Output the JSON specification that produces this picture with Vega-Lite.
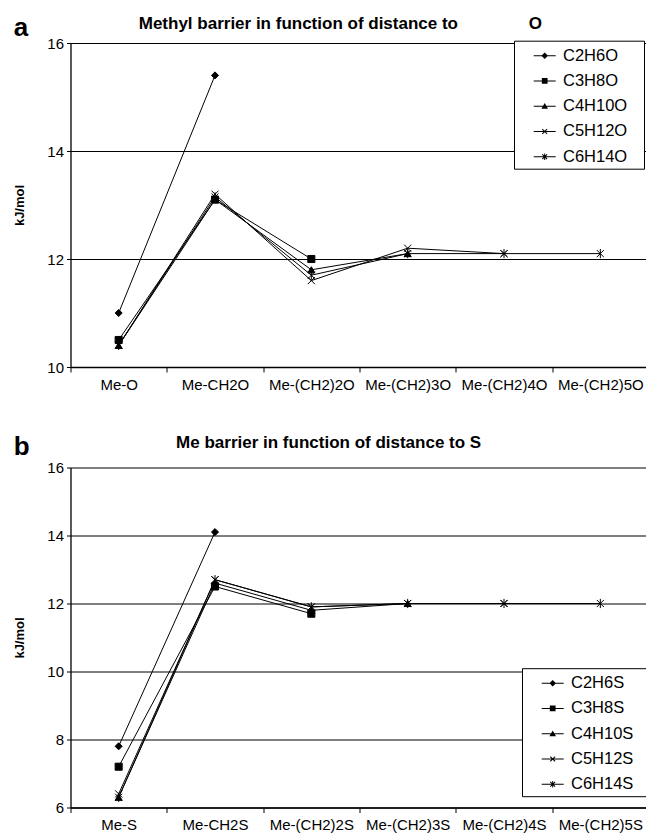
{
  "$schema": "https://vega.github.io/schema/vega-lite/v6.json",
  "background": "white",
  "padding": {"left": 13.5, "top": 14, "right": 0, "bottom": 0},
  "spacing": 41.5,
  "resolve": {"scale": {"shape": "independent"}, "legend": {"shape": "independent"}},
  "config": {
    "font": "Liberation Sans",
    "view": {"stroke": null},
    "axis": {"domainColor": "black", "tickColor": "black", "labelColor": "black", "titleColor": "black", "gridColor": "black", "gridOpacity": 1, "domainWidth": 1.3, "tickWidth": 1, "gridWidth": 1},
    "title": {"fontSize": 17, "fontWeight": "bold", "color": "black", "font": "Liberation Sans"}
  },
  "datasets": {
    "oxy": [
      {"series": "C2H6O", "idx": 1, "position": "Me-O", "kJ": 11.0},
      {"series": "C2H6O", "idx": 2, "position": "Me-CH2O", "kJ": 15.4},
      {"series": "C3H8O", "idx": 1, "position": "Me-O", "kJ": 10.5},
      {"series": "C3H8O", "idx": 2, "position": "Me-CH2O", "kJ": 13.1},
      {"series": "C3H8O", "idx": 3, "position": "Me-(CH2)2O", "kJ": 12.0},
      {"series": "C4H10O", "idx": 1, "position": "Me-O", "kJ": 10.4},
      {"series": "C4H10O", "idx": 2, "position": "Me-CH2O", "kJ": 13.1},
      {"series": "C4H10O", "idx": 3, "position": "Me-(CH2)2O", "kJ": 11.8},
      {"series": "C4H10O", "idx": 4, "position": "Me-(CH2)3O", "kJ": 12.1},
      {"series": "C5H12O", "idx": 1, "position": "Me-O", "kJ": 10.4},
      {"series": "C5H12O", "idx": 2, "position": "Me-CH2O", "kJ": 13.2},
      {"series": "C5H12O", "idx": 3, "position": "Me-(CH2)2O", "kJ": 11.6},
      {"series": "C5H12O", "idx": 4, "position": "Me-(CH2)3O", "kJ": 12.2},
      {"series": "C5H12O", "idx": 5, "position": "Me-(CH2)4O", "kJ": 12.1},
      {"series": "C6H14O", "idx": 1, "position": "Me-O", "kJ": 10.4},
      {"series": "C6H14O", "idx": 2, "position": "Me-CH2O", "kJ": 13.15},
      {"series": "C6H14O", "idx": 3, "position": "Me-(CH2)2O", "kJ": 11.7},
      {"series": "C6H14O", "idx": 4, "position": "Me-(CH2)3O", "kJ": 12.1},
      {"series": "C6H14O", "idx": 5, "position": "Me-(CH2)4O", "kJ": 12.1},
      {"series": "C6H14O", "idx": 6, "position": "Me-(CH2)5O", "kJ": 12.1}
    ],
    "sul": [
      {"series": "C2H6S", "idx": 1, "position": "Me-S", "kJ": 7.8},
      {"series": "C2H6S", "idx": 2, "position": "Me-CH2S", "kJ": 14.1},
      {"series": "C3H8S", "idx": 1, "position": "Me-S", "kJ": 7.2},
      {"series": "C3H8S", "idx": 2, "position": "Me-CH2S", "kJ": 12.5},
      {"series": "C3H8S", "idx": 3, "position": "Me-(CH2)2S", "kJ": 11.7},
      {"series": "C4H10S", "idx": 1, "position": "Me-S", "kJ": 6.3},
      {"series": "C4H10S", "idx": 2, "position": "Me-CH2S", "kJ": 12.6},
      {"series": "C4H10S", "idx": 3, "position": "Me-(CH2)2S", "kJ": 11.8},
      {"series": "C4H10S", "idx": 4, "position": "Me-(CH2)3S", "kJ": 12.0},
      {"series": "C5H12S", "idx": 1, "position": "Me-S", "kJ": 6.4},
      {"series": "C5H12S", "idx": 2, "position": "Me-CH2S", "kJ": 12.7},
      {"series": "C5H12S", "idx": 3, "position": "Me-(CH2)2S", "kJ": 11.9},
      {"series": "C5H12S", "idx": 4, "position": "Me-(CH2)3S", "kJ": 12.0},
      {"series": "C5H12S", "idx": 5, "position": "Me-(CH2)4S", "kJ": 12.0},
      {"series": "C6H14S", "idx": 1, "position": "Me-S", "kJ": 6.3},
      {"series": "C6H14S", "idx": 2, "position": "Me-CH2S", "kJ": 12.7},
      {"series": "C6H14S", "idx": 3, "position": "Me-(CH2)2S", "kJ": 11.9},
      {"series": "C6H14S", "idx": 4, "position": "Me-(CH2)3S", "kJ": 12.0},
      {"series": "C6H14S", "idx": 5, "position": "Me-(CH2)4S", "kJ": 12.0},
      {"series": "C6H14S", "idx": 6, "position": "Me-(CH2)5S", "kJ": 12.0}
    ]
  },
  "vconcat": [
    {
      "title": {"text": "a", "anchor": "start", "frame": "bounds", "fontSize": 26, "offset": -26},
      "vconcat": [
        {
          "width": 578,
          "height": 324,
          "title": {"text": "Methyl barrier in function of distance to\u00a0\u00a0\u00a0\u00a0\u00a0\u00a0\u00a0\u00a0\u00a0\u00a0\u00a0\u00a0\u00a0\u00a0\u00a0O", "anchor": "middle", "frame": "bounds", "offset": 3.5, "dx": 9},
          "data": {"name": "oxy"},
          "encoding": {
            "x": {"field": "position", "type": "nominal",
              "scale": {"domain": ["Me-O", "Me-CH2O", "Me-(CH2)2O", "Me-(CH2)3O", "Me-(CH2)4O", "Me-(CH2)5O"], "paddingInner": 0, "paddingOuter": 0},
              "axis": {"title": null, "labelAngle": 0, "tickBand": "extent", "tickSize": 5, "labelPadding": 5, "labelFontSize": 15, "grid": false}},
            "y": {"field": "kJ", "type": "quantitative",
              "scale": {"domain": [10, 16], "nice": false, "zero": false},
              "axis": {"values": [10, 12, 14, 16], "grid": true, "tickSize": 4, "labelPadding": 3, "labelFontSize": 15, "title": "kJ/mol", "titleFontSize": 13, "titleFontWeight": "bold", "titlePadding": 20}}
          },
          "resolve": {"scale": {"shape": "independent"}, "legend": {"shape": "independent"}},
          "layer": [
            {"mark": {"type": "line", "color": "black", "strokeWidth": 1}, "encoding": {"detail": {"field": "series"}, "order": {"field": "idx", "type": "quantitative"}}},
            {"mark": {"type": "point", "filled": true, "fill": "black", "stroke": "black", "strokeWidth": 1, "opacity": 1, "size": 50},
              "encoding": {"shape": {"field": "series", "type": "nominal", "legend": null,
                "scale": {"domain": ["C2H6O", "C3H8O", "C4H10O", "C5H12O", "C6H14O"], "range": ["diamond", "square", "triangle-up", "M-1,-1L1,1M-1,1L1,-1", "M-1,-1L1,1M-1,1L1,-1M0,-1.3L0,1.3"]}}}},
            {"transform": [{"filter": "false"}],
              "mark": {"type": "point", "filled": true, "fill": "black", "opacity": 1, "size": 484},
              "encoding": {"shape": {"field": "series", "type": "nominal",
                "scale": {"domain": ["C2H6O", "C3H8O", "C4H10O", "C5H12O", "C6H14O"], "range": [
                  "M-1,-0.045L1,-0.045L1,0.045L-1,0.045ZM0,-0.3L0.3,0L0,0.3L-0.3,0Z",
                  "M-1,-0.045L1,-0.045L1,0.045L-1,0.045ZM-0.26,-0.26L0.26,-0.26L0.26,0.26L-0.26,0.26Z",
                  "M-1,-0.045L1,-0.045L1,0.045L-1,0.045ZM0,-0.3L0.3,0.24L-0.3,0.24Z",
                  "M-1,-0.045L1,-0.045L1,0.045L-1,0.045ZM-0.188,-0.252L0.252,0.188L0.188,0.252L-0.252,-0.188ZM-0.252,0.188L0.188,-0.252L0.252,-0.188L-0.188,0.252Z",
                  "M-1,-0.045L1,-0.045L1,0.045L-1,0.045ZM-0.188,-0.252L0.252,0.188L0.188,0.252L-0.252,-0.188ZM-0.252,0.188L0.188,-0.252L0.252,-0.188L-0.188,0.252ZM-0.045,-0.3L0.045,-0.3L0.045,0.3L-0.045,0.3Z"]},
                "legend": {"title": null, "orient": "none", "legendX": 443.5, "legendY": -2.3, "strokeColor": "black", "fillColor": "white", "padding": 3, "symbolSize": 484, "symbolOffset": 15.7, "labelOffset": 6.3, "rowPadding": 4.25, "labelFontSize": 16.5, "labelColor": "black", "labelExpr": "datum.label + '\u00a0\u00a0\u00a0\u200b'", "symbolFillColor": "black"}}}}
          ]
        }
      ]
    },
    {
      "title": {"text": "b", "anchor": "start", "frame": "bounds", "fontSize": 26, "offset": -26},
      "vconcat": [
        {
          "width": 578,
          "height": 340,
          "title": {"text": "Me barrier in function of distance to S", "anchor": "middle", "frame": "bounds", "offset": 8.3, "dx": -4},
          "data": {"name": "sul"},
          "encoding": {
            "x": {"field": "position", "type": "nominal",
              "scale": {"domain": ["Me-S", "Me-CH2S", "Me-(CH2)2S", "Me-(CH2)3S", "Me-(CH2)4S", "Me-(CH2)5S"], "paddingInner": 0, "paddingOuter": 0},
              "axis": {"title": null, "labelAngle": 0, "tickBand": "extent", "tickSize": 5, "labelPadding": 5, "labelFontSize": 15, "grid": false}},
            "y": {"field": "kJ", "type": "quantitative",
              "scale": {"domain": [6, 16], "nice": false, "zero": false},
              "axis": {"values": [6, 8, 10, 12, 14, 16], "grid": true, "tickSize": 4, "labelPadding": 3, "labelFontSize": 15, "title": "kJ/mol", "titleFontSize": 13, "titleFontWeight": "bold", "titlePadding": 20}}
          },
          "resolve": {"scale": {"shape": "independent"}, "legend": {"shape": "independent"}},
          "layer": [
            {"mark": {"type": "line", "color": "black", "strokeWidth": 1}, "encoding": {"detail": {"field": "series"}, "order": {"field": "idx", "type": "quantitative"}}},
            {"mark": {"type": "point", "filled": true, "fill": "black", "stroke": "black", "strokeWidth": 1, "opacity": 1, "size": 50},
              "encoding": {"shape": {"field": "series", "type": "nominal", "legend": null,
                "scale": {"domain": ["C2H6S", "C3H8S", "C4H10S", "C5H12S", "C6H14S"], "range": ["diamond", "square", "triangle-up", "M-1,-1L1,1M-1,1L1,-1", "M-1,-1L1,1M-1,1L1,-1M0,-1.3L0,1.3"]}}}},
            {"transform": [{"filter": "false"}],
              "mark": {"type": "point", "filled": true, "fill": "black", "opacity": 1, "size": 484},
              "encoding": {"shape": {"field": "series", "type": "nominal",
                "scale": {"domain": ["C2H6S", "C3H8S", "C4H10S", "C5H12S", "C6H14S"], "range": [
                  "M-1,-0.045L1,-0.045L1,0.045L-1,0.045ZM0,-0.3L0.3,0L0,0.3L-0.3,0Z",
                  "M-1,-0.045L1,-0.045L1,0.045L-1,0.045ZM-0.26,-0.26L0.26,-0.26L0.26,0.26L-0.26,0.26Z",
                  "M-1,-0.045L1,-0.045L1,0.045L-1,0.045ZM0,-0.3L0.3,0.24L-0.3,0.24Z",
                  "M-1,-0.045L1,-0.045L1,0.045L-1,0.045ZM-0.188,-0.252L0.252,0.188L0.188,0.252L-0.252,-0.188ZM-0.252,0.188L0.188,-0.252L0.252,-0.188L-0.188,0.252Z",
                  "M-1,-0.045L1,-0.045L1,0.045L-1,0.045ZM-0.188,-0.252L0.252,0.188L0.188,0.252L-0.252,-0.188ZM-0.252,0.188L0.188,-0.252L0.252,-0.188L-0.188,0.252ZM-0.045,-0.3L0.045,-0.3L0.045,0.3L-0.045,0.3Z"]},
                "legend": {"title": null, "orient": "none", "legendX": 451.5, "legendY": 200.7, "strokeColor": "black", "fillColor": "white", "padding": 3, "symbolSize": 484, "symbolOffset": 15.7, "labelOffset": 6.3, "rowPadding": 4.25, "labelFontSize": 16.5, "labelColor": "black", "labelExpr": "datum.label + '\u00a0\u00a0\u00a0\u200b'", "symbolFillColor": "black"}}}}
          ]
        }
      ]
    }
  ]
}
